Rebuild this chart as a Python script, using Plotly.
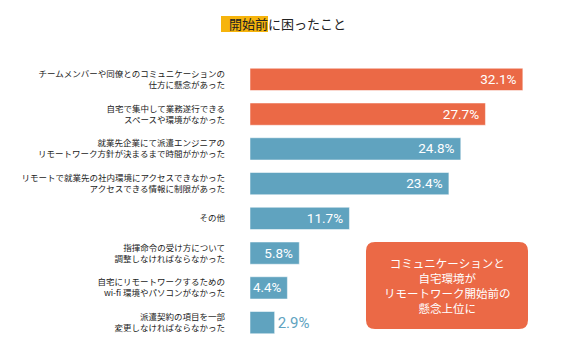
import plotly.graph_objects as go

categories = [
    "チームメンバーや同僚とのコミュニケーションの<br>仕方に懸念があった",
    "自宅で集中して業務遂行できる<br>スペースや環境がなかった",
    "就業先企業にて派遣エンジニアの<br>リモートワーク方針が決まるまで時間がかかった",
    "リモートで就業先の社内環境にアクセスできなかった<br>アクセスできる情報に制限があった",
    "その他",
    "指揮命令の受け方について<br>調整しなければならなかった",
    "自宅にリモートワークするための<br>wi-fi 環境やパソコンがなかった",
    "派遣契約の項目を一部<br>変更しなければならなかった",
]
values = [32.1, 27.7, 24.8, 23.4, 11.7, 5.8, 4.4, 2.9]
highlight = [True, True, False, False, False, False, False, False]
title_hl = "開始前"
title_rest = "に困ったこと"
note_lines = ["コミュニケーションと", "自宅環境が", "リモートワーク開始前の", "懸念上位に"]

ORANGE = "#EB6946"
BLUE = "#60A3BF"
JP = "Noto Sans CJK JP"

W_FIG, H_FIG = 564, 359
L, R, T, B = 250, 8, 62, 19
PW, PH = W_FIG - L - R, H_FIG - T - B

def px(x):
    return (x - L) / PW

def py(y):
    return 1 - (y - T) / PH

colors = [ORANGE if h else BLUE for h in highlight]
positions = ["inside" if v > 4 else "outside" for v in values]
text_colors = ["white" if p == "inside" else BLUE for p in positions]
texts = [f"{v:.1f}%" + (" " if p == "inside" else "") for v, p in zip(values, positions)]

fig = go.Figure(go.Bar(
    x=values, y=categories, orientation="h",
    marker=dict(color=colors, line=dict(color="rgba(255,255,255,0.5)", width=1)),
    width=0.64,
    text=texts, textposition=positions, insidetextanchor="end",
    textfont=dict(family="Roboto", size=15, color=text_colors),
    cliponaxis=False, hoverinfo="skip",
))

fig.update_layout(
    width=W_FIG, height=H_FIG,
    margin=dict(l=L, r=R, t=T, b=B, autoexpand=False),
    plot_bgcolor="white", paper_bgcolor="white",
    showlegend=False,
    xaxis=dict(range=[0, 36], visible=False, fixedrange=True, automargin=False),
    yaxis=dict(autorange=False, range=[7.5, -0.5], showgrid=False, zeroline=False,
               showline=False, ticks="", ticklabelstandoff=24, automargin=False,
               fixedrange=True,
               tickfont=dict(family=JP, size=8.5, color="#222")),
    font=dict(family=JP),
)

# title highlight
fig.add_shape(type="rect", xref="paper", yref="paper",
              x0=px(221), x1=px(268), y0=py(32), y1=py(16),
              fillcolor="#F6B40C", line=dict(width=0), layer="below")
fig.add_annotation(xref="paper", yref="paper", x=px(227), y=py(24),
                   xanchor="left", yanchor="middle", showarrow=False,
                   text=title_hl + title_rest,
                   font=dict(family=JP, size=13, color="#222"))

# rounded note box
x0, x1, y0, y1, r = 366, 528, 242, 329, 9
def P(x, y):
    return f"{px(x):.5f},{py(y):.5f}"
path = (f"M {P(x0 + r, y0)} L {P(x1 - r, y0)} Q {P(x1, y0)} {P(x1, y0 + r)} "
        f"L {P(x1, y1 - r)} Q {P(x1, y1)} {P(x1 - r, y1)} "
        f"L {P(x0 + r, y1)} Q {P(x0, y1)} {P(x0, y1 - r)} "
        f"L {P(x0, y0 + r)} Q {P(x0, y0)} {P(x0 + r, y0)} Z")
fig.add_shape(type="path", xref="paper", yref="paper", path=path,
              fillcolor=ORANGE, line=dict(width=0))
fig.add_annotation(xref="paper", yref="paper", x=px((x0 + x1) / 2), y=py((y0 + y1) / 2),
                   xanchor="center", yanchor="middle", showarrow=False,
                   text="<br>".join(note_lines), align="center",
                   font=dict(family=JP, size=11.5, color="white"))

fig.write_html("out.html", config={"displayModeBar": False},
               post_script="document.body.style.margin='0';")
